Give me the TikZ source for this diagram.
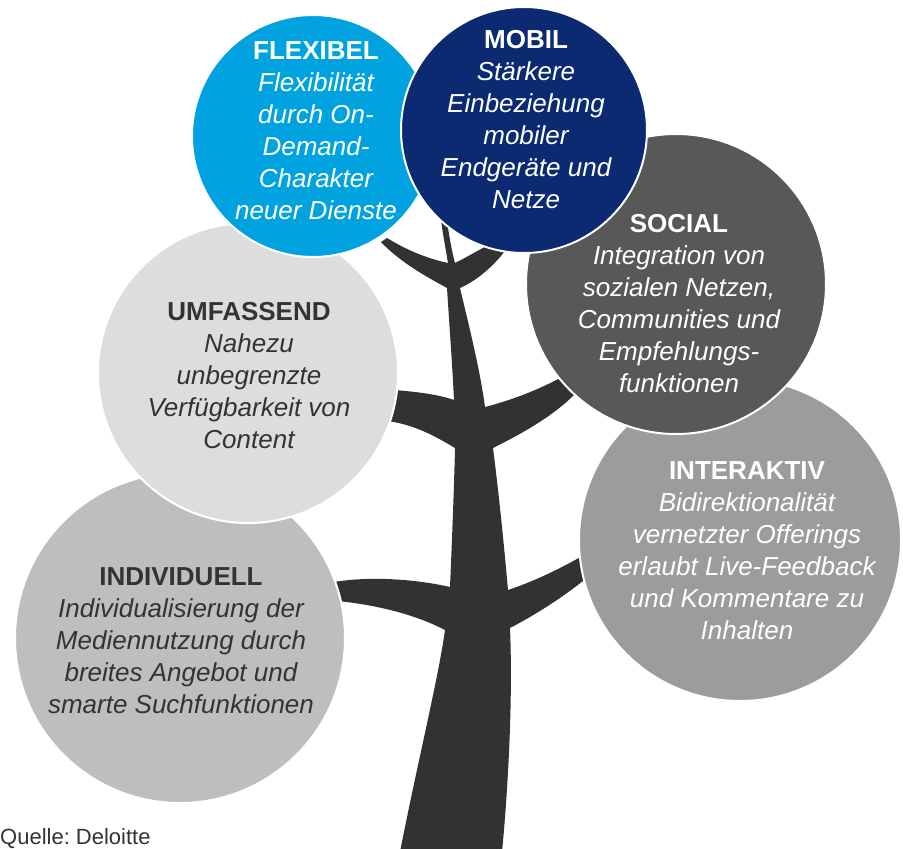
\documentclass[tikz,border=0pt]{standalone}
\usepackage{fontspec}
\setmainfont{Liberation Sans}
\definecolor{flexblue}{HTML}{00A3DF}
\definecolor{mobilnavy}{HTML}{0B2A72}
\definecolor{socialgray}{HTML}{585858}
\definecolor{umfgray}{HTML}{DDDDDD}
\definecolor{intgray}{HTML}{9C9C9C}
\definecolor{indgray}{HTML}{BEBEBE}
\definecolor{treegray}{HTML}{323232}
\definecolor{textdark}{HTML}{333333}
\newcommand{\bubbletitle}[1]{\textbf{\upshape #1}}
\tikzset{
  bubble/.style={circle, draw=white, line width=2pt, inner sep=0pt},
  bubbletext/.style={align=center, inner sep=0pt,
    font=\fontsize{26pt}{32pt}\selectfont\itshape},
  lighttext/.style={bubbletext, text=white},
  darktext/.style={bubbletext, text=textdark},
}
\begin{document}
\begin{tikzpicture}[x=1pt,y=-1pt]
\useasboundingbox (0,0) rectangle (903,849);

% tree: trunk with three pairs of branches
\fill[treegray]
  (400,852)
  .. controls (418,760) and (438,680) .. (445,630)
  .. controls (420,617) and (385,606) .. (338,601)
  -- (334,582)
  .. controls (370,576) and (415,579) .. (450,587)
  .. controls (452,540) and (454,490) .. (455,448)
  .. controls (435,436) and (415,425) .. (388,421)
  -- (394,390)
  .. controls (420,392) and (440,395) .. (454,400)
  .. controls (452,360) and (449,320) .. (447,288)
  .. controls (425,276) and (400,262) .. (381,242)
  -- (387,238)
  .. controls (405,249) and (425,258) .. (448,263)
  .. controls (445,245) and (442,230) .. (439,205)
  -- (445,205)
  .. controls (448,230) and (451,248) .. (455,263)
  .. controls (467,257) and (479,250) .. (490,244)
  -- (508,247)
  .. controls (495,265) and (478,280) .. (460,288)
  .. controls (470,330) and (480,370) .. (485,407)
  .. controls (512,400) and (538,390) .. (562,377)
  -- (578,391)
  .. controls (555,415) and (525,432) .. (493,448)
  .. controls (499,495) and (504,545) .. (508,590)
  .. controls (532,582) and (558,570) .. (584,555)
  -- (588,577)
  .. controls (562,598) and (535,615) .. (510,628)
  .. controls (513,700) and (508,790) .. (502,852)
  -- cycle;

% circles, back to front
\node[bubble, fill=indgray,    minimum size=330pt] (cInd)  at (180,638) {};
\node[bubble, fill=umfgray,    minimum size=300pt] (cUmf)  at (248,373) {};
\node[bubble, fill=intgray,    minimum size=322pt] (cInt)  at (740,540) {};
\node[bubble, fill=socialgray, minimum size=300pt] (cSoc)  at (676,284) {};
\node[bubble, fill=flexblue,   minimum size=242pt] (cFlex) at (313,136) {};
\node[bubble, fill=mobilnavy,  minimum size=246pt] (cMob)  at (524,130) {};

% texts
\node[lighttext] (tFlex) at (316,131)
  {\bubbletitle{FLEXIBEL}\\Flexibilität\\durch On-\\Demand-\\Charakter\\neuer Dienste};
\node[lighttext] (tMob) at (526,120)
  {\bubbletitle{MOBIL}\\Stärkere\\Einbeziehung\\mobiler\\Endgeräte und\\Netze};
\node[lighttext] (tSoc) at (679,304)
  {\bubbletitle{SOCIAL}\\Integration von\\sozialen Netzen,\\Communities und\\Empfehlungs-\\funktionen};
\node[darktext] (tUmf) at (249,376)
  {\bubbletitle{UMFASSEND}\\Nahezu\\unbegrenzte\\Verfügbarkeit von\\Content};
\node[lighttext] (tInt) at (747,551)
  {\bubbletitle{INTERAKTIV}\\Bidirektionalität\\vernetzter Offerings\\erlaubt Live-Feedback\\und Kommentare zu\\Inhalten};
\node[darktext] (tInd) at (181,641)
  {\bubbletitle{INDIVIDUELL}\\Individualisierung der\\Mediennutzung durch\\breites Angebot und\\smarte Suchfunktionen};

\node[anchor=base west, inner sep=0pt, text=textdark,
  font=\fontsize{22pt}{26pt}\selectfont] (source) at (0,844) {Quelle:\ Deloitte};
\end{tikzpicture}
\end{document}
